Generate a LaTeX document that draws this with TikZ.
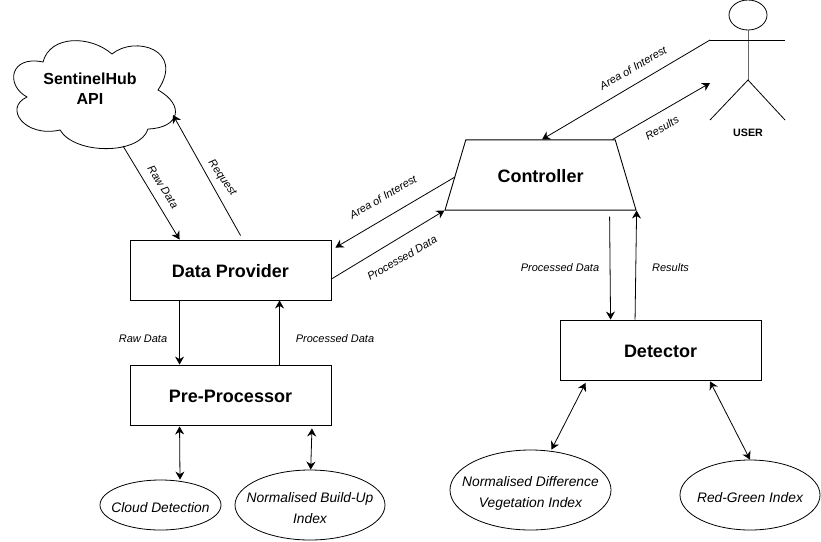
\documentclass[tikz,border=0pt]{standalone}
\usepackage{fontspec}
\setmainfont{Liberation Sans}
\usetikzlibrary{positioning, arrows.meta, shapes.geometric, calc}
\tikzset{
  block/.style={draw, line width=0.9pt, inner sep=0pt, text height=15pt, font=\fontsize{18}{21}\selectfont\bfseries, align=center},
  oval/.style={draw, ellipse, line width=0.8pt, inner xsep=-30pt, inner ysep=0pt, text height=16pt, font=\fontsize{13.8}{21}\selectfont\itshape, align=center},
  oval two/.style={oval, text height=38pt},
  link/.style={line width=0.8pt, -{Stealth[length=8pt, width=9pt]}},
  duplex/.style={line width=0.8pt, {Stealth[length=8pt, width=9pt]}-{Stealth[length=8pt, width=9pt]}},
  tag/.style={font=\fontsize{11}{13}\selectfont\itshape, inner sep=0pt},
}
\begin{document}
\begin{tikzpicture}[x=1pt, y=-1pt]
  \useasboundingbox (0,0) rectangle (821,541);

  % cloud
  \draw[line width=0.8pt] (60,130)
    .. controls (25,138) and (3,108) .. (27,97)
    .. controls (5,85) and (10,55) .. (43,62)
    .. controls (50,35) and (90,35) .. (112,54)
    .. controls (135,35) and (185,50) .. (158,90)
    .. controls (185,105) and (180,128) .. (148,129)
    .. controls (140,155) and (75,155) .. (60,130) -- cycle;
  \node[font=\fontsize{16}{20}\selectfont\bfseries, align=center, inner sep=0pt] (api) at (90,89) {SentinelHub\\API};

  % boxes
  \node[block, minimum width=201pt, minimum height=60pt] (provider) at (230.5,270) {Data Provider};
  \node[block, minimum width=201pt, minimum height=60pt] (preproc) at (230.5,395) {Pre-Processor};
  \node[block, minimum width=201pt, minimum height=60pt] (detector) at (660.5,350) {Detector};
  \node[block, trapezium, trapezium angle=73.5, trapezium stretches body=true, inner ysep=27.5pt, minimum width=191pt] (controller) at (540.5,175) {Controller};

  % ellipses
  \node[oval, minimum width=121pt, minimum height=50pt] (cloudmask) at (160.5,505) {Cloud Detection};
  \node[oval two, minimum width=150pt, minimum height=70pt] (nbi) at (310,505) {Normalised Build-Up\\Index};
  \node[oval two, minimum width=161pt, minimum height=80pt] (ndvi) at (530.5,490) {Normalised Difference\\Vegetation Index};
  \node[oval, minimum width=140pt, minimum height=70pt] (rgi) at (750,495) {Red-Green Index};

  % user
  \node[draw, ellipse, line width=0.8pt, minimum width=38pt, minimum height=30pt, inner sep=0pt] (head) at (748,15) {};
  \coordinate (hip) at (748,80);
  \coordinate (handl) at (710,40);
  \coordinate (handr) at (785,40);
  \draw[line width=0.8pt, black!60] (head.south) -- (hip);
  \draw[line width=0.8pt] (handl) -- (handr);
  \draw[line width=0.8pt] (710,120) -- (hip) -- (785,120);
  \node[font=\fontsize{10.7}{12}\selectfont\bfseries, inner sep=0pt] (user) at (748,133) {USER};

  % connectors
  \draw[link] ($(api)+(33,57)$) -- ($(provider.north west)+(50,0)$);
  \draw[link] ($(provider.north west)+(111,-4)$) -- ($(api)+(83,26)$);
  \draw[link] ($(provider.south west)+(50,0)$) -- ($(preproc.north west)+(50,0)$);
  \draw[link] ($(preproc.north west)+(150,0)$) -- ($(provider.south west)+(150,0)$);
  \draw[link] ($(controller.west)+(0,2)$) -- ($(provider.north east)+(4,8)$);
  \draw[link] ($(provider.east)+(0,9)$) -- (controller.bottom left corner);
  \draw[link] (handl) -- ($(controller.north)+(1.5,0)$);
  \draw[link] ($(controller.top right corner)+(-3,0)$) -- ($(handl)+(0,43)$);
  \draw[link] ($(controller.bottom right corner)+(-27,6)$) -- ($(detector.north west)+(51,0)$);
  \draw[link] ($(detector.north west)+(75.5,0)$) -- (controller.bottom right corner);
  \draw[duplex] ($(preproc.south west)+(50,1)$) -- ($(cloudmask.north)+(19.5,0)$);
  \draw[duplex] ($(preproc.south east)+(-19.5,3)$) -- ($(nbi.north)+(0.7,0)$);
  \draw[duplex] ($(detector.south west)+(26,2.5)$) -- ($(ndvi.north)+(21,0)$);
  \draw[duplex] ($(detector.south west)+(150.5,1)$) -- (rgi.north);

  % labels
  \node[tag, rotate=-58] at (163,187) {Raw Data};
  \node[tag, rotate=-55] at (222,178) {Request};
  \node[tag] at (143,339) {Raw Data};
  \node[tag] at (335,339) {Processed Data};
  \node[tag, rotate=30] at (383,197) {Area of Interest};
  \node[tag, rotate=30] at (402,258) {Processed Data};
  \node[tag, rotate=30] at (633,68) {Area of Interest};
  \node[tag, rotate=30] at (662,128) {Results};
  \node[tag] at (560,268) {Processed Data};
  \node[tag] at (670.5,268) {Results};
\end{tikzpicture}
\end{document}
